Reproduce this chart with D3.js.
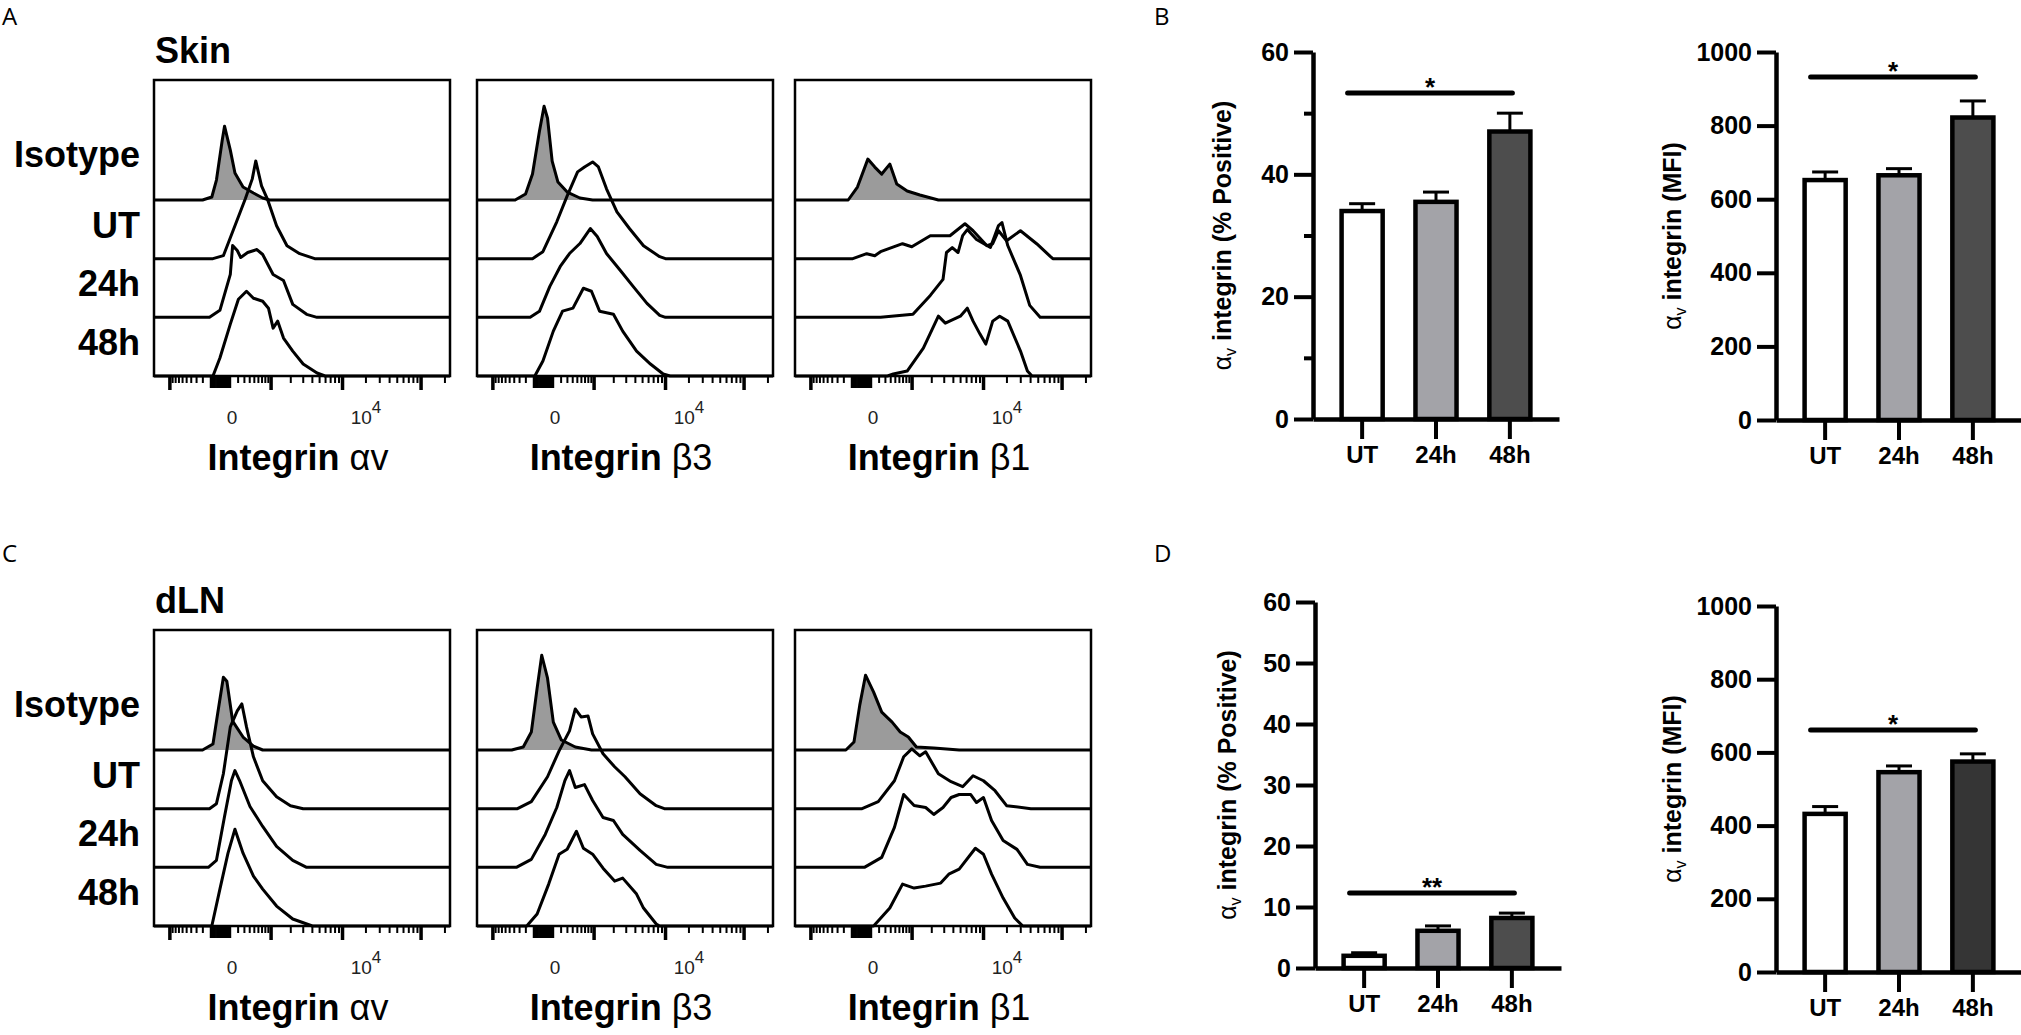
<!DOCTYPE html>
<html>
<head>
<meta charset="utf-8">
<script src="https://cdn.jsdelivr.net/npm/d3@7"></script>
<style>
body { margin: 0; background: #fff; }
svg { display: block; }
text { font-family: "Liberation Sans", Arial, Helvetica, sans-serif; fill: #000; }
</style>
</head>
<body>
<svg id="fig" width="2021" height="1035"></svg>
<script>
// categories
const groups = ["UT", "24h", "48h"];
const rowLabels = ["Isotype", "UT", "24h", "48h"];
const markers = ["\u03b1v", "\u03b23", "\u03b21"];

// bar values (mean and SEM)
const skinPct = [34.0, 35.5, 47.0];
const skinPctErr = [1.2, 1.6, 3.0];
const skinMfi = [652, 665, 822];
const skinMfiErr = [22, 18, 45];
const dlnPct = [2.0, 6.1, 8.2];
const dlnPctErr = [0.5, 0.8, 0.8];
const dlnMfi = [432, 546, 575];
const dlnMfiErr = [20, 17, 21];

// histograms: [display channel 0-256, relative count], rows Isotype / UT / 24h / 48h
const skinAv = [
  [[42,0],[50,3],[54,20],[59,60],[61,74],[66,50],[70,27],[77,13],[86,7],[94,2],[100,0]],
  [[51,0],[60,3],[68,27],[79,60],[85,80],[88,98],[93,73],[98,60],[106,33],[115,13],[126,5],[139,0]],
  [[48,0],[57,7],[66,43],[68,72],[72,67],[75,60],[81,65],[89,68],[94,63],[103,43],[112,37],[120,13],[132,3],[141,0]],
  [[51,0],[57,18],[66,52],[73,77],[80,85],[86,78],[94,75],[99,68],[103,48],[107,55],[112,38],[120,25],[129,12],[141,3],[148,0]]
];
const skinB3 = [
  [[33,0],[42,6],[48,26],[54,69],[58,94],[61,82],[65,39],[70,18],[78,8],[89,2],[100,0]],
  [[48,0],[57,7],[69,37],[78,63],[87,87],[93,92],[100,97],[105,92],[112,70],[121,47],[132,30],[144,13],[158,2],[163,0]],
  [[46,0],[54,6],[63,31],[72,51],[80,64],[89,74],[98,89],[104,81],[112,64],[124,47],[135,31],[147,14],[158,2],[163,0]],
  [[50,0],[57,15],[66,45],[74,65],[83,68],[92,88],[99,85],[106,65],[118,62],[126,45],[138,25],[150,12],[161,2],[167,0]]
];
const skinB1 = [
  [[46,0],[54,13],[63,41],[69,33],[75,26],[82,36],[88,16],[97,9],[108,5],[124,0]],
  [[50,0],[62,5],[69,3],[74,7],[93,15],[101,12],[117,23],[134,23],[147,35],[154,28],[166,13],[171,15],[176,28],[183,18],[195,28],[209,15],[221,2],[223,0]],
  [[74,0],[102,3],[117,22],[128,38],[131,65],[136,70],[141,65],[145,82],[149,88],[157,78],[169,70],[176,92],[179,95],[184,72],[195,42],[203,12],[212,0]],
  [[80,0],[85,2],[97,5],[111,28],[124,60],[130,53],[143,60],[149,68],[154,55],[160,42],[165,32],[171,55],[177,60],[184,55],[195,25],[201,5],[205,0]]
];
const dlnAv = [
  [[42,0],[51,6],[55,36],[60,73],[63,69],[68,29],[77,13],[86,4],[94,0]],
  [[48,0],[54,5],[60,35],[66,82],[72,98],[76,105],[80,82],[86,52],[94,28],[106,12],[118,3],[129,0]],
  [[47,0],[54,7],[61,51],[67,87],[70,97],[74,87],[83,61],[94,41],[106,21],[120,7],[132,0]],
  [[50,0],[57,37],[64,73],[70,97],[77,73],[86,50],[94,37],[106,20],[120,7],[137,0]]
];
const dlnB3 = [
  [[30,0],[40,3],[47,18],[52,62],[56,95],[61,72],[66,28],[73,10],[85,3],[99,0]],
  [[35,0],[47,7],[61,32],[71,58],[80,78],[85,100],[90,92],[96,93],[100,75],[109,55],[119,42],[128,32],[141,15],[155,3],[162,0]],
  [[34,0],[47,8],[59,33],[69,60],[76,87],[80,97],[85,80],[93,83],[100,67],[109,50],[118,47],[126,33],[141,17],[155,3],[165,0]],
  [[43,0],[52,12],[62,42],[71,72],[78,77],[86,95],[92,78],[100,72],[109,58],[119,45],[126,48],[138,32],[144,18],[155,2],[158,0]]
];
const dlnB1 = [
  [[44,0],[51,8],[56,45],[61,75],[68,58],[75,38],[84,28],[91,18],[98,13],[105,3],[120,2],[142,0]],
  [[58,0],[72,7],[86,28],[94,52],[101,60],[108,53],[113,57],[124,35],[135,27],[145,22],[154,33],[163,28],[173,18],[183,3],[204,0]],
  [[60,0],[75,10],[86,40],[94,73],[103,62],[113,60],[120,53],[128,60],[135,70],[142,73],[152,73],[157,65],[163,70],[170,47],[180,27],[192,18],[201,3],[212,0]],
  [[68,0],[82,18],[93,42],[103,38],[113,40],[126,43],[133,52],[142,57],[156,78],[163,72],[170,52],[180,28],[190,8],[197,0]]
];

// fluorescence axis ticks (biexponential display)
const majorTicks = [-1000, 1000, 1e4, 1e5];
const zeroTicks = d3.range(-100, 101, 10);
const minorTicks = [].concat(d3.range(-900, -100, 100), d3.range(200, 1000, 100),
  d3.range(2000, 10000, 1000), d3.range(20000, 100000, 10000), [200000]);

const svg = d3.select("#fig");

// panel letters
[["A", 2, 25], ["B", 1154, 25], ["C", 2, 562], ["D", 1154, 562]].forEach(([t, x, y]) => {
  svg.append("text").attr("x", x).attr("y", y).text(t)
    .style("font-family", "'Open Sans', sans-serif").style("font-size", "24px");
});

function histPanel(x0, y0, traces, marker) {
  const w = 296, h = 296, rowH = (h - 120) / 3;
  const g = svg.append("g").attr("transform", `translate(${x0},${y0})`);
  const x = d3.scaleLinear().domain([0, 256]).range([0, w]);
  const fl = d3.scaleSymlog().constant(300).domain([-1730, 235000]).range([0, w]);

  traces.forEach((tr, i) => {
    const base = 120 + i * rowH;
    const y = d3.scaleLinear().domain([0, 100]).range([base, base - 1.7 * rowH]);
    const pts = [[0, 0], ...tr, [256, 0]];
    if (i === 0) {
      g.append("path")
        .attr("d", d3.area().x(d => x(d[0])).y0(base).y1(d => y(d[1]))(tr))
        .attr("fill", "#9b9b9b");
    }
    g.append("path")
      .attr("d", d3.line().x(d => x(d[0])).y(d => y(d[1]))(pts))
      .attr("fill", "none").attr("stroke", "#000")
      .attr("stroke-width", 3).attr("stroke-linejoin", "round");
  });

  g.append("rect").attr("width", w).attr("height", h)
    .attr("fill", "none").attr("stroke", "#000").attr("stroke-width", 2.5);

  const addTicks = (vals, size, sw) => {
    const a = g.append("g").attr("transform", `translate(0,${h})`)
      .call(d3.axisBottom(fl).tickValues(vals).tickSize(size).tickFormat(""));
    a.select(".domain").remove();
    a.selectAll("line").attr("stroke-width", sw);
  };
  addTicks(majorTicks, 14, 3.5);
  addTicks(zeroTicks, 12, 1.6);
  addTicks(minorTicks, 7, 2);

  g.append("text").attr("x", fl(0) + 12).attr("y", h + 48)
    .attr("text-anchor", "middle").style("font-size", "19px").style("fill", "#222").text("0");
  const t4 = g.append("text").attr("x", fl(1e4) + 24).attr("y", h + 48)
    .attr("text-anchor", "middle").style("font-size", "19px").style("fill", "#222");
  t4.append("tspan").text("10");
  t4.append("tspan").attr("dy", -11).style("font-size", "17px").text("4");

  const tt = g.append("text").attr("x", w / 2 - 4).attr("y", h + 94)
    .attr("text-anchor", "middle").style("font-size", "36px");
  tt.append("tspan").style("font-weight", "bold").text("Integrin ");
  tt.append("tspan").text(marker);
}

function histSection(y0, title, sets) {
  svg.append("text").attr("x", 155).attr("y", y0 - 17)
    .style("font-size", "36px").style("font-weight", "bold").text(title);
  const rowH = (296 - 120) / 3;
  rowLabels.forEach((r, i) => {
    svg.append("text").attr("x", 140).attr("y", y0 + 120 + i * rowH - (i === 0 ? 33 : 21))
      .attr("text-anchor", "end").style("font-size", "36px").style("font-weight", "bold").text(r);
  });
  [154, 477, 795].forEach((x0, k) => histPanel(x0, y0, sets[k], markers[k]));
}

histSection(80, "Skin", [skinAv, skinB3, skinB1]);
histSection(630, "dLN", [dlnAv, dlnB3, dlnB1]);

function barChart(o) {
  const g = svg.append("g");
  const y = d3.scaleLinear().domain([0, o.max]).range([o.yb, o.yt]);
  const x = d3.scaleBand().domain(groups).range([o.x0, o.x0 + 246])
    .paddingInner(0.39).paddingOuter(0.36);
  const bw = x.bandwidth();

  // bars
  groups.forEach((c, i) => {
    const v = o.vals[i], e = o.errs[i], cx = x(c) + bw / 2;
    g.append("line").attr("x1", cx).attr("x2", cx).attr("y1", y(v)).attr("y2", y(v + e))
      .attr("stroke", "#000").attr("stroke-width", 3);
    g.append("line").attr("x1", cx - 13).attr("x2", cx + 13).attr("y1", y(v + e)).attr("y2", y(v + e))
      .attr("stroke", "#000").attr("stroke-width", 3);
    g.append("rect").attr("x", x(c) + 2).attr("width", bw - 4)
      .attr("y", y(v)).attr("height", o.yb - y(v))
      .attr("fill", o.fills[i]).attr("stroke", "#000").attr("stroke-width", 4.5);
  });

  // axes
  const ya = g.append("g").attr("transform", `translate(${o.x0},0)`)
    .call(d3.axisLeft(y).tickValues(o.ticks).tickFormat(d3.format("d"))
      .tickSize(19).tickPadding(5).tickSizeOuter(0));
  if (o.minor) {
    g.append("g").attr("transform", `translate(${o.x0},0)`)
      .call(d3.axisLeft(y).tickValues(o.minor).tickSize(9).tickFormat("").tickSizeOuter(0))
      .call(s => s.select(".domain").remove())
      .selectAll("line").attr("stroke-width", 4);
  }
  const xa = g.append("g").attr("transform", `translate(0,${o.yb})`)
    .call(d3.axisBottom(x).tickSize(20).tickPadding(7).tickSizeOuter(0));
  [ya, xa].forEach(a => {
    a.select(".domain").attr("stroke-width", 4.5);
    a.selectAll(".tick line").attr("stroke-width", 4);
    a.selectAll("text").style("font-family", "'Liberation Sans', Arial, sans-serif")
      .style("font-size", "25px").style("font-weight", "bold").attr("fill", "#000");
  });
  xa.selectAll("text").style("font-size", "24px");

  // significance
  const sy = y(o.sigLevel);
  g.append("line").attr("x1", x("UT") + 8).attr("x2", x("48h") + bw - 20)
    .attr("y1", sy).attr("y2", sy).attr("stroke", "#000")
    .attr("stroke-width", 5).attr("stroke-linecap", "round");
  g.append("text").attr("x", (x("UT") + 8 + x("48h") + bw - 20) / 2).attr("y", sy + 3)
    .attr("text-anchor", "middle").style("font-size", "26px").style("font-weight", "bold")
    .text(o.sig);

  // y label
  const lx = o.x0 - o.labelOff, ly = (o.yb + o.yt) / 2;
  const t = g.append("text").attr("transform", `translate(${lx},${ly}) rotate(-90)`)
    .attr("text-anchor", "middle").attr("dy", "0.35em").style("font-size", "25px");
  t.append("tspan").text("\u03b1");
  t.append("tspan").attr("dy", 5).style("font-size", "16px").text("v");
  t.append("tspan").attr("dy", -5).style("font-weight", "bold").text(" " + o.label);
}

const fillsLight = ["#ffffff", "#a3a3a8", "#4d4d4d"];
const fillsDark = ["#ffffff", "#a3a3a8", "#353535"];

barChart({ x0: 1313, yb: 419, yt: 52, max: 60, ticks: [0, 20, 40, 60], minor: [10, 30, 50],
  vals: skinPct, errs: skinPctErr, sig: "*", sigLevel: 53.3, label: "integrin (% Positive)",
  fills: fillsLight, labelOff: 91 });
barChart({ x0: 1776, yb: 420, yt: 52, max: 1000, ticks: d3.range(0, 1001, 200),
  vals: skinMfi, errs: skinMfiErr, sig: "*", sigLevel: 932, label: "integrin (MFI)",
  fills: fillsLight, labelOff: 104 });
barChart({ x0: 1315, yb: 968, yt: 602, max: 60, ticks: d3.range(0, 61, 10),
  vals: dlnPct, errs: dlnPctErr, sig: "**", sigLevel: 12.3, label: "integrin (% Positive)",
  fills: fillsLight, labelOff: 88 });
barChart({ x0: 1776, yb: 972, yt: 606, max: 1000, ticks: d3.range(0, 1001, 200),
  vals: dlnMfi, errs: dlnMfiErr, sig: "*", sigLevel: 661, label: "integrin (MFI)",
  fills: fillsDark, labelOff: 104 });
</script>
</body>
</html>
